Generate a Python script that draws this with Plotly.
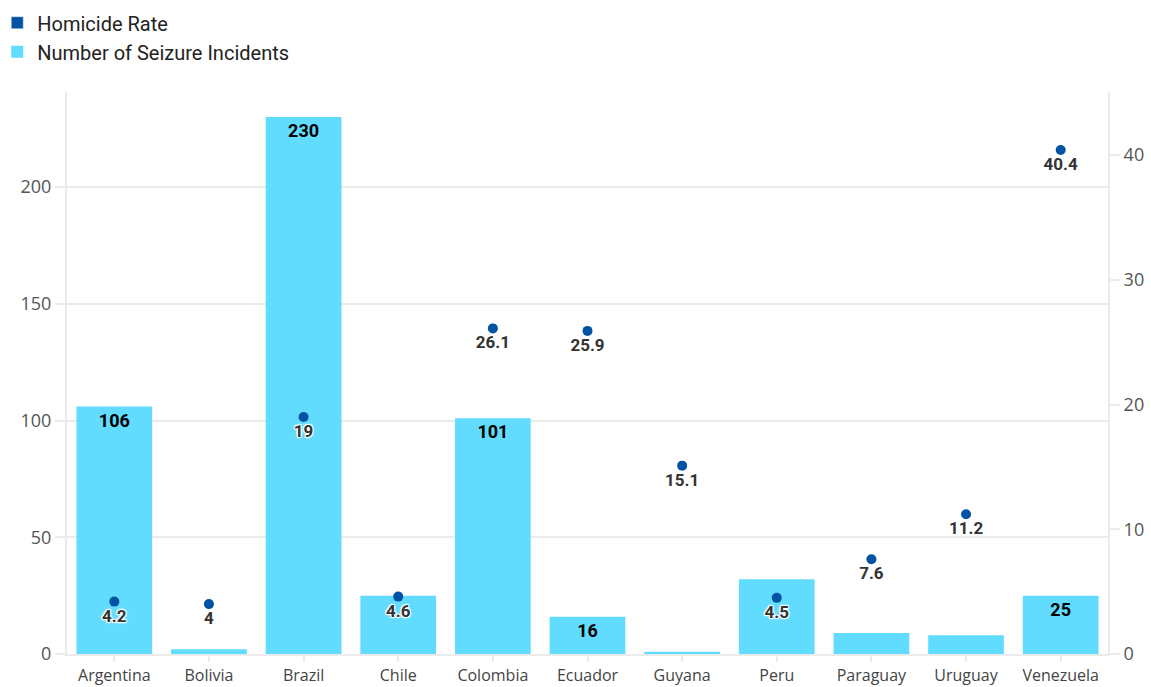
import plotly.graph_objects as go

countries = ["Argentina", "Bolivia", "Brazil", "Chile", "Colombia", "Ecuador",
             "Guyana", "Peru", "Paraguay", "Uruguay", "Venezuela"]
seizures = [106, 2, 230, 25, 101, 16, 1, 32, 9, 8, 25]
homicide = [4.2, 4, 19, 4.6, 26.1, 25.9, 15.1, 4.5, 7.6, 11.2, 40.4]
# bar labels that are kept (others would collide with point labels or not fit)
show_bar_label = [True, False, True, False, True, True, False, False, False, False, True]

BAR_COLOR = "#62DCFE"
DOT_COLOR = "#0052A5"
GRID = "#EBEBEB"
TICK_FONT = dict(family="Open Sans, Roboto, sans-serif", size=18, color="#555555")

bar_text = [str(v) if s else "" for v, s in zip(seizures, show_bar_label)]
dot_text = [f"{v:g}" for v in homicide]

WHITE_HALO = ("1px 1px 1px #fff, -1px -1px 1px #fff, 1px -1px 1px #fff, "
              "-1px 1px 1px #fff, 0px 0px 3px #fff")

fig = go.Figure()

fig.add_trace(go.Bar(
    x=countries, y=seizures, name="Number of Seizure Incidents",
    marker=dict(color=BAR_COLOR, line=dict(width=0)),
    text=bar_text, textposition="inside", insidetextanchor="end",
    textangle=0,
    textfont=dict(family="Roboto, sans-serif", size=18, color="#000000",
                  weight="bold", shadow=f"0px 0px 3px {BAR_COLOR}"),
    constraintext="none", legendrank=2,
))

fig.add_trace(go.Scatter(
    x=countries, y=homicide, yaxis="y2", mode="markers+text",
    name="Homicide Rate", showlegend=False,
    marker=dict(color=DOT_COLOR, size=10),
    text=dot_text, textposition="bottom center",
    textfont=dict(family="Roboto, sans-serif", size=17, color="#333333",
                  weight="bold", shadow=WHITE_HALO),
    cliponaxis=False,
))

# legend entry with a square swatch for the homicide series
fig.add_trace(go.Bar(x=[countries[0]], y=[None], name="Homicide Rate",
                     marker_color=DOT_COLOR, showlegend=True, legendrank=1,
                     hoverinfo="skip"))

fig.update_layout(
    width=1151, height=687,
    margin=dict(l=67, r=43, t=92, b=33, autoexpand=False),
    plot_bgcolor="white", paper_bgcolor="white",
    bargap=0.2, barmode="overlay",
    showlegend=True,
    legend=dict(x=-0.067, y=1.158, xanchor="left", yanchor="top", orientation="v",
                font=dict(family="Roboto, sans-serif", size=20, color="#222222"),
                traceorder="normal", bgcolor="rgba(0,0,0,0)", tracegroupgap=0),
    xaxis=dict(type="category", range=[-0.5, len(countries) - 0.5],
               showgrid=False, showline=True, linecolor=GRID, linewidth=2,
               ticks="outside", tickcolor=GRID, ticklen=6, tickwidth=2, tickangle=0,
               ticklabelstandoff=0,
               tickfont=dict(family="Open Sans, Roboto, sans-serif", size=16, color="#444444")),
    yaxis=dict(range=[0, 240.7], tickvals=[0, 50, 100, 150, 200],
               showgrid=True, gridcolor=GRID, gridwidth=2,
               showline=True, linecolor=GRID, linewidth=2,
               ticks="outside", tickcolor=GRID, ticklen=10, tickwidth=2,
               tickfont=TICK_FONT, zeroline=False),
    yaxis2=dict(range=[0, 45.05], tickvals=[0, 10, 20, 30, 40],
                overlaying="y", side="right", showgrid=False,
                showline=True, linecolor=GRID, linewidth=2,
                ticks="outside", tickcolor=GRID, ticklen=10, tickwidth=2,
                tickfont=TICK_FONT, zeroline=False),
)

fig.write_html("out.html")
